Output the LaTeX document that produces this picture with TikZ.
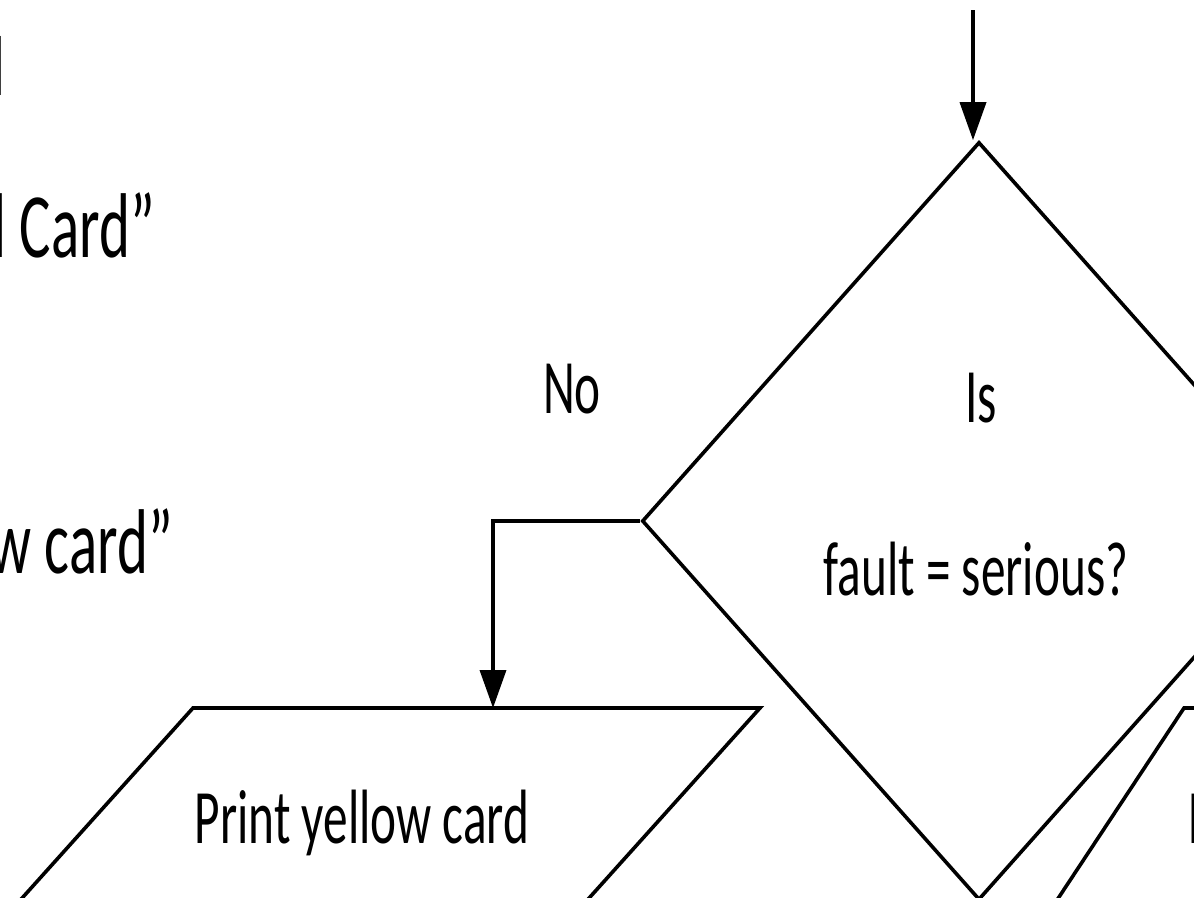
\documentclass[tikz,border=0pt]{standalone}
\usepackage{fontspec}
\setmainfont{Carlito}[FakeStretch=0.64]
\usetikzlibrary{shapes.geometric,arrows.meta}
\begin{document}
\begin{tikzpicture}[x=1pt,y=-1pt,
  line/.style={line width=3.6pt, line join=miter},
  arr/.style={line, -{Triangle[length=38pt,width=26pt]}},
  lbl/.style={inner sep=0pt, font=\fontsize{77}{92}\selectfont},
  code/.style={inner sep=0pt, font=\fontsize{92}{110}\selectfont}]
\useasboundingbox (0,0) rectangle (1194,897);
\clip (0,0) rectangle (1194,897);
\fill[white] (0,0) rectangle (1194,897);

% pseudocode lines on the left
\node[code, anchor=base east] (c1) at (6,95) {N};
\node[code, anchor=base east] (c2) at (155,257) {d Card”};
\node[code, anchor=base east] (c4) at (173,573) {w card”};

% decision
\node[diamond, draw, line, minimum width=674pt, minimum height=758pt, inner sep=0pt] (dec) at (979,521) {};
\node[lbl, anchor=base] (is) at (981,422) {Is};
\node[lbl, anchor=base] (cond) at (976,595) {fault = serious?};

% incoming flow
\coordinate (in) at (973,10);
\draw[arr] (in) -- (in |- dec.north);

% "No" branch
\node[lbl, anchor=base] (no) at (572,413) {No};
\coordinate (yin) at (493,708);
\draw[arr] (dec.west) -| (yin);

% output: yellow card
\draw[line] (193,708) -- (760,708) -- ++(-223,248) -- ++(-567,0) -- cycle;
\node[lbl, anchor=base] (ytext) at (362,843) {Print yellow card};

% output on the right
\draw[line] (1500,708) -- (1184,708) -- ++(-164,248);
\node[lbl, anchor=base west] (rtext) at (1188,843) {P};
\end{tikzpicture}
\end{document}
